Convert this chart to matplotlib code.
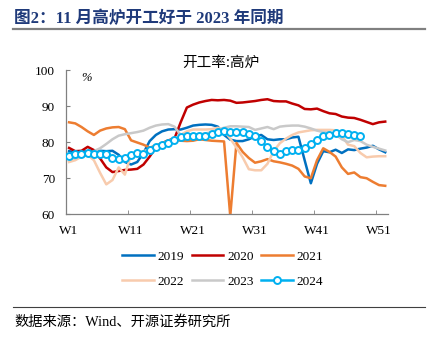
import numpy as np
import matplotlib
matplotlib.use('Agg')
import matplotlib.pyplot as plt
from matplotlib.lines import Line2D

plt.rcParams['font.family'] = ['Liberation Serif', 'Noto Sans CJK SC']

# weekly blast furnace utilisation (%), W1..W52
v2019 = [77.5, 77.2, 77.3, 77.5, 77.6, 77.6, 77.5, 77.6, 76.5, 74.5,
         73.8, 74.5, 77.0, 80.3, 82.0, 83.0, 83.5, 83.6, 83.5, 84.0,
         84.6, 84.8, 84.9, 84.8, 84.3, 82.0, 80.7, 80.3, 80.3, 80.8,
         81.6, 82.0, 80.8, 80.6, 80.8, 80.8, 81.3, 81.5, 75.0, 68.6,
         74.0, 77.5, 77.2, 77.9, 77.0, 78.0, 77.8, 78.2, 78.5, 79.0,
         78.0, 77.2]
v2020 = [78.4, 77.5, 77.6, 78.7, 77.8, 75.5, 73.0, 71.7, 72.0, 72.3,
         72.4, 72.6, 73.8, 76.0, 78.5, 79.7, 80.5, 81.0, 85.5, 89.6,
         90.4, 91.0, 91.4, 91.7, 91.6, 91.7, 91.5, 90.9, 91.0, 91.2,
         91.4, 91.7, 91.9, 91.4, 91.3, 91.3, 90.7, 90.2, 89.2, 89.1,
         89.3, 88.6, 88.0, 87.8, 87.1, 86.8, 86.7, 86.2, 85.6, 85.0,
         85.5, 85.7]
v2021 = [85.5, 85.2, 84.2, 83.0, 82.0, 83.2, 83.8, 84.1, 84.2, 83.6,
         80.5, 79.9, 79.3, 78.5, 79.0, 79.8, 80.3, 80.6, 80.4, 80.3,
         80.4, 80.8, 80.6, 80.4, 80.3, 80.2, 59.5, 79.8, 77.3, 75.6,
         74.3, 74.7, 75.3, 74.7, 74.4, 74.0, 73.5, 72.6, 70.5, 70.0,
         75.0, 78.3, 77.3, 76.0, 73.0, 71.2, 71.6, 70.3, 70.0, 69.0,
         68.1, 67.9]
v2022 = [74.5, 75.0, 76.0, 76.5, 75.0, 71.5, 68.3, 69.5, 73.0, 71.0,
         76.5, 77.0, 77.5, 78.0, 78.8, 79.5, 80.2, 81.0, 82.0, 83.0,
         83.5, 83.5, 83.5, 83.6, 84.0, 83.2, 81.0, 78.5, 75.8, 72.5,
         72.2, 72.2, 74.0, 77.5, 79.7, 81.0, 82.0, 82.7, 83.0, 83.3,
         83.4, 83.4, 83.4, 83.3, 81.8, 79.3, 78.9, 77.0, 75.8, 76.0,
         76.1, 76.1]
v2023 = [75.5, 75.5, 76.0, 76.5, 77.5, 78.3, 79.5, 80.8, 81.8, 82.2,
         82.5, 82.8, 83.2, 84.0, 84.6, 84.9, 85.0, 84.3, 82.0, 81.5,
         82.0, 82.2, 82.4, 82.8, 83.5, 84.0, 84.4, 84.4, 84.3, 84.2,
         83.4, 83.8, 84.2, 83.6, 84.3, 84.5, 84.6, 84.6, 84.3, 83.8,
         83.2, 82.8, 82.6, 82.2, 80.8, 80.0, 80.6, 80.3, 79.3, 78.7,
         78.2, 77.7]
v2024 = [76.1, 76.6, 76.7, 77.0, 76.7, 76.8, 76.6, 75.6, 75.2, 75.6,
         76.4, 77.0, 76.7, 77.9, 78.6, 79.1, 79.7, 80.7, 81.4, 81.8,
         81.8, 81.8, 81.8, 82.3, 82.8, 83.2, 82.8, 82.7, 82.7, 82.3,
         81.6, 80.2, 78.6, 77.5, 76.6, 77.5, 77.7, 77.9, 78.4, 79.5,
         80.7, 81.6, 82.1, 82.4, 82.4, 82.2, 82.1, 81.8]

years = ['2019', '2020', '2021', '2022', '2023', '2024']
series = [v2019, v2020, v2021, v2022, v2023, v2024]
colors = ['#0070C0', '#C00000', '#ED7D31', '#F8CBAD', '#C9C9C9', '#00B0F0']
week_labels = ['W1', 'W11', 'W21', 'W31', 'W41', 'W51']

fig = plt.figure(figsize=(4.35, 3.44), dpi=100)
ax = fig.add_axes([0.1517, 0.377, 0.741, 0.4195])

handles = []
for name, vals, c in zip(years, series, colors):
    x = np.arange(1, len(vals) + 1)
    if name == '2024':
        h, = ax.plot(x, vals, color=c, lw=1.8, marker='o', ms=5,
                     mfc='white', mec=c, mew=1.4, zorder=5)
    else:
        h, = ax.plot(x, vals, color=c, lw=1.8)
    handles.append(h)

ax.set_xlim(0.5, 52.5)
ax.set_ylim(60, 100)
ax.set_yticks(range(60, 101, 10))
ax.set_xticks([1, 11, 21, 31, 41, 51])
ax.set_xticklabels(week_labels)
ax.set_xticks(np.arange(0.5, 52, 10), minor=True)
ax.tick_params(axis='x', which='major', length=0, pad=7.5, labelsize=9.5)
ax.tick_params(axis='x', which='minor', direction='in', length=3, color='#808080')
ax.tick_params(axis='y', direction='in', length=3, color='#808080', pad=8,
               labelsize=9.5)
for s in ['top', 'right']:
    ax.spines[s].set_visible(False)
for s in ['left', 'bottom']:
    ax.spines[s].set_color('#808080')
    ax.spines[s].set_linewidth(0.9)

ax.text(0.065, 0.985, '%', transform=ax.transAxes, fontsize=9,
        ha='center', va='top', style='italic')

fig.text(0.508, 0.818, '开工率:高炉', fontsize=10.5, ha='center', va='center',
         family=['Noto Sans CJK SC'])

fig.text(0.033, 0.945, '图2：11 月高炉开工好于 2023 年同期', fontsize=12,
         fontweight='bold', color='#1F3A7A', ha='left', va='center')
fig.add_artist(Line2D([0.03, 0.977], [0.915, 0.915], color='#808080', lw=1.6))

# legend filled column by column -> reorder so rows read 2019-2021 / 2022-2024
order = [0, 3, 1, 4, 2, 5]
fig.legend([handles[i] for i in order], [years[i] for i in order],
           loc='center', bbox_to_anchor=(0.512, 0.218), ncol=3,
           frameon=False, fontsize=9.5, handlelength=2.4, handletextpad=0.3,
           columnspacing=0.55, labelspacing=0.95)

fig.add_artist(Line2D([0.03, 0.977], [0.108, 0.108], color='#404040', lw=0.8))
fig.text(0.033, 0.064, '数据来源：Wind、开源证券研究所', fontsize=10.3,
         ha='left', va='center')

fig.savefig('out.png', dpi=100)
